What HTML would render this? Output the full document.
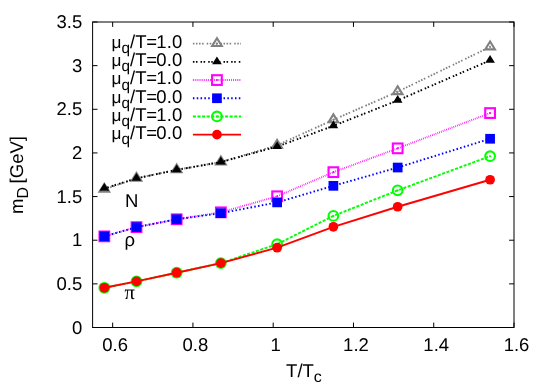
<!DOCTYPE html>
<html><head><meta charset="utf-8"><title>plot</title>
<style>html,body{margin:0;padding:0;background:#fff}svg{display:block}text{font-family:"Liberation Sans",sans-serif;font-size:18.5px;text-rendering:geometricPrecision}svg{will-change:transform;opacity:.999}</style></head>
<body>
<svg width="545" height="382" viewBox="0 0 545 382" fill="#000">
<rect width="545" height="382" fill="#fff"/>
<text x="82.2" y="333.70" text-anchor="end">0</text>
<text x="82.2" y="290.06" text-anchor="end">0.5</text>
<text x="82.2" y="246.41" text-anchor="end">1</text>
<text x="82.2" y="202.77" text-anchor="end">1.5</text>
<text x="82.2" y="159.13" text-anchor="end">2</text>
<text x="82.2" y="115.49" text-anchor="end">2.5</text>
<text x="82.2" y="71.84" text-anchor="end">3</text>
<text x="82.2" y="28.20" text-anchor="end">3.5</text>
<text x="115.17" y="351.20" text-anchor="middle">0.6</text>
<text x="195.43" y="351.20" text-anchor="middle">0.8</text>
<text x="275.70" y="351.20" text-anchor="middle">1</text>
<text x="355.97" y="351.20" text-anchor="middle">1.2</text>
<text x="436.23" y="351.20" text-anchor="middle">1.4</text>
<text x="516.50" y="351.20" text-anchor="middle">1.6</text>
<path d="M92.6,327.50h4.9M514.0,327.50h-4.9M92.6,283.86h4.9M514.0,283.86h-4.9M92.6,240.21h4.9M514.0,240.21h-4.9M92.6,196.57h4.9M514.0,196.57h-4.9M92.6,152.93h4.9M514.0,152.93h-4.9M92.6,109.29h4.9M514.0,109.29h-4.9M92.6,65.64h4.9M514.0,65.64h-4.9M92.6,22.00h4.9M514.0,22.00h-4.9M112.67,327.5v-4.9M112.67,22.0v4.9M192.93,327.5v-4.9M192.93,22.0v4.9M273.20,327.5v-4.9M273.20,22.0v4.9M353.47,327.5v-4.9M353.47,22.0v4.9M433.73,327.5v-4.9M433.73,22.0v4.9M514.00,327.5v-4.9M514.00,22.0v4.9" stroke="#000" stroke-width="1" fill="none"/>
<rect x="92.6" y="22.0" width="421.40" height="305.50" fill="none" stroke="#000" stroke-width="1"/>
<text x="111.5" y="48.05" style="font-size:17.2px">μ</text><text x="121.6" y="53.15" style="font-size:15.3px">q</text><text x="130.03 135.17 146.17 156.37 166.7 172.1" y="48.05">/T=1.0</text>
<text x="111.5" y="66.25" style="font-size:17.2px">μ</text><text x="121.6" y="71.35" style="font-size:15.3px">q</text><text x="130.03 135.17 146.17 156.37 166.7 172.1" y="66.25">/T=0.0</text>
<text x="111.5" y="84.45" style="font-size:17.2px">μ</text><text x="121.6" y="89.55" style="font-size:15.3px">q</text><text x="130.03 135.17 146.17 156.37 166.7 172.1" y="84.45">/T=1.0</text>
<text x="111.5" y="102.65" style="font-size:17.2px">μ</text><text x="121.6" y="107.75" style="font-size:15.3px">q</text><text x="130.03 135.17 146.17 156.37 166.7 172.1" y="102.65">/T=0.0</text>
<text x="111.5" y="120.85" style="font-size:17.2px">μ</text><text x="121.6" y="125.95" style="font-size:15.3px">q</text><text x="130.03 135.17 146.17 156.37 166.7 172.1" y="120.85">/T=1.0</text>
<text x="111.5" y="139.05" style="font-size:17.2px">μ</text><text x="121.6" y="144.15" style="font-size:15.3px">q</text><text x="130.03 135.17 146.17 156.37 166.7 172.1" y="139.05">/T=0.0</text>
<path d="M192.9,43.65H241.0" stroke="#808080" stroke-width="1.9" fill="none" stroke-dasharray="1.530 1.530 1.530 1.530 1.530 1.530 1.530 3.060"/>
<polygon points="216.95,38.22 212.10,46.07 221.80,46.07" fill="none" stroke="#808080" stroke-width="2.1"/><circle cx="216.95" cy="43.65" r="1.05" fill="#808080"/>
<polyline points="104.35,189.31 136.50,178.33 176.68,169.88 220.88,162.04 277.13,145.31 333.39,119.77 397.68,91.71 490.09,46.92" stroke="#808080" stroke-width="1.9" fill="none" stroke-dasharray="1.530 1.530 1.530 1.530 1.530 1.530 1.530 3.060" stroke-linejoin="round"/>
<polygon points="104.35,183.88 99.50,191.74 109.20,191.74" fill="none" stroke="#808080" stroke-width="2.1"/><circle cx="104.35" cy="189.31" r="1.05" fill="#808080"/>
<polygon points="136.50,172.90 131.65,180.76 141.35,180.76" fill="none" stroke="#808080" stroke-width="2.1"/><circle cx="136.50" cy="178.33" r="1.05" fill="#808080"/>
<polygon points="176.68,164.45 171.83,172.31 181.53,172.31" fill="none" stroke="#808080" stroke-width="2.1"/><circle cx="176.68" cy="169.88" r="1.05" fill="#808080"/>
<polygon points="220.88,156.61 216.03,164.46 225.73,164.46" fill="none" stroke="#808080" stroke-width="2.1"/><circle cx="220.88" cy="162.04" r="1.05" fill="#808080"/>
<polygon points="277.13,139.88 272.28,147.73 281.98,147.73" fill="none" stroke="#808080" stroke-width="2.1"/><circle cx="277.13" cy="145.31" r="1.05" fill="#808080"/>
<polygon points="333.39,114.34 328.54,122.20 338.24,122.20" fill="none" stroke="#808080" stroke-width="2.1"/><circle cx="333.39" cy="119.77" r="1.05" fill="#808080"/>
<polygon points="397.68,86.28 392.83,94.14 402.53,94.14" fill="none" stroke="#808080" stroke-width="2.1"/><circle cx="397.68" cy="91.71" r="1.05" fill="#808080"/>
<polygon points="490.09,41.49 485.24,49.35 494.94,49.35" fill="none" stroke="#808080" stroke-width="2.1"/><circle cx="490.09" cy="46.92" r="1.05" fill="#808080"/>
<path d="M192.9,61.85H241.0" stroke="#000000" stroke-width="1.9" fill="none" stroke-dasharray="1.530 1.530 1.530 3.060"/>
<polygon points="216.95,56.42 212.10,64.27 221.80,64.27" fill="#000000"/>
<polyline points="104.35,188.44 136.50,178.33 176.68,169.88 220.88,162.04 277.13,146.61 333.39,125.87 397.68,100.43 490.09,60.34" stroke="#000000" stroke-width="1.9" fill="none" stroke-dasharray="1.530 1.530 1.530 3.060" stroke-linejoin="round"/>
<polygon points="104.35,183.01 99.50,190.87 109.20,190.87" fill="#000000"/>
<polygon points="136.50,172.90 131.65,180.76 141.35,180.76" fill="#000000"/>
<polygon points="176.68,164.45 171.83,172.31 181.53,172.31" fill="#000000"/>
<polygon points="220.88,156.61 216.03,164.46 225.73,164.46" fill="#000000"/>
<polygon points="277.13,141.18 272.28,149.04 281.98,149.04" fill="#000000"/>
<polygon points="333.39,120.44 328.54,128.30 338.24,128.30" fill="#000000"/>
<polygon points="397.68,95.00 392.83,102.85 402.53,102.85" fill="#000000"/>
<polygon points="490.09,54.91 485.24,62.77 494.94,62.77" fill="#000000"/>
<path d="M192.9,80.05H241.0" stroke="#ff00ff" stroke-width="1.9" fill="none" stroke-dasharray="0.765 1.147"/>
<rect x="212.10" y="75.20" width="9.7" height="9.7" fill="none" stroke="#ff00ff" stroke-width="2.1"/><circle cx="216.95" cy="80.05" r="1.05" fill="#ff00ff"/>
<polyline points="104.35,236.37 136.50,227.13 176.68,219.29 220.88,212.32 277.13,196.29 333.39,172.15 397.68,148.36 490.09,113.06" stroke="#ff00ff" stroke-width="1.9" fill="none" stroke-dasharray="0.765 1.147" stroke-linejoin="round"/>
<rect x="99.50" y="231.52" width="9.7" height="9.7" fill="none" stroke="#ff00ff" stroke-width="2.1"/><circle cx="104.35" cy="236.37" r="1.05" fill="#ff00ff"/>
<rect x="131.65" y="222.28" width="9.7" height="9.7" fill="none" stroke="#ff00ff" stroke-width="2.1"/><circle cx="136.50" cy="227.13" r="1.05" fill="#ff00ff"/>
<rect x="171.83" y="214.44" width="9.7" height="9.7" fill="none" stroke="#ff00ff" stroke-width="2.1"/><circle cx="176.68" cy="219.29" r="1.05" fill="#ff00ff"/>
<rect x="216.03" y="207.47" width="9.7" height="9.7" fill="none" stroke="#ff00ff" stroke-width="2.1"/><circle cx="220.88" cy="212.32" r="1.05" fill="#ff00ff"/>
<rect x="272.28" y="191.44" width="9.7" height="9.7" fill="none" stroke="#ff00ff" stroke-width="2.1"/><circle cx="277.13" cy="196.29" r="1.05" fill="#ff00ff"/>
<rect x="328.54" y="167.30" width="9.7" height="9.7" fill="none" stroke="#ff00ff" stroke-width="2.1"/><circle cx="333.39" cy="172.15" r="1.05" fill="#ff00ff"/>
<rect x="392.83" y="143.51" width="9.7" height="9.7" fill="none" stroke="#ff00ff" stroke-width="2.1"/><circle cx="397.68" cy="148.36" r="1.05" fill="#ff00ff"/>
<rect x="485.24" y="108.21" width="9.7" height="9.7" fill="none" stroke="#ff00ff" stroke-width="2.1"/><circle cx="490.09" cy="113.06" r="1.05" fill="#ff00ff"/>
<path d="M192.9,98.25H241.0" stroke="#0000ff" stroke-width="1.9" fill="none" stroke-dasharray="1.530 2.295"/>
<rect x="212.10" y="93.40" width="9.7" height="9.7" fill="#0000ff"/>
<polyline points="104.35,236.37 136.50,227.13 176.68,219.29 220.88,213.19 277.13,202.39 333.39,185.83 397.68,167.53 490.09,138.77" stroke="#0000ff" stroke-width="1.9" fill="none" stroke-dasharray="1.530 2.295" stroke-linejoin="round"/>
<rect x="99.50" y="231.52" width="9.7" height="9.7" fill="#0000ff"/>
<rect x="131.65" y="222.28" width="9.7" height="9.7" fill="#0000ff"/>
<rect x="171.83" y="214.44" width="9.7" height="9.7" fill="#0000ff"/>
<rect x="216.03" y="208.34" width="9.7" height="9.7" fill="#0000ff"/>
<rect x="272.28" y="197.54" width="9.7" height="9.7" fill="#0000ff"/>
<rect x="328.54" y="180.98" width="9.7" height="9.7" fill="#0000ff"/>
<rect x="392.83" y="162.68" width="9.7" height="9.7" fill="#0000ff"/>
<rect x="485.24" y="133.92" width="9.7" height="9.7" fill="#0000ff"/>
<path d="M192.9,116.45H241.0" stroke="#00ff00" stroke-width="1.9" fill="none" stroke-dasharray="3.060 1.530"/>
<circle cx="216.95" cy="116.45" r="4.85" fill="none" stroke="#00ff00" stroke-width="2.1"/><circle cx="216.95" cy="116.45" r="1.05" fill="#00ff00"/>
<polyline points="104.35,287.79 136.50,281.42 176.68,272.71 220.88,263.12 277.13,244.21 333.39,215.89 397.68,190.36 490.09,156.20" stroke="#00ff00" stroke-width="1.9" fill="none" stroke-dasharray="3.060 1.530" stroke-linejoin="round"/>
<circle cx="104.35" cy="287.79" r="4.85" fill="none" stroke="#00ff00" stroke-width="2.1"/><circle cx="104.35" cy="287.79" r="1.05" fill="#00ff00"/>
<circle cx="136.50" cy="281.42" r="4.85" fill="none" stroke="#00ff00" stroke-width="2.1"/><circle cx="136.50" cy="281.42" r="1.05" fill="#00ff00"/>
<circle cx="176.68" cy="272.71" r="4.85" fill="none" stroke="#00ff00" stroke-width="2.1"/><circle cx="176.68" cy="272.71" r="1.05" fill="#00ff00"/>
<circle cx="220.88" cy="263.12" r="4.85" fill="none" stroke="#00ff00" stroke-width="2.1"/><circle cx="220.88" cy="263.12" r="1.05" fill="#00ff00"/>
<circle cx="277.13" cy="244.21" r="4.85" fill="none" stroke="#00ff00" stroke-width="2.1"/><circle cx="277.13" cy="244.21" r="1.05" fill="#00ff00"/>
<circle cx="333.39" cy="215.89" r="4.85" fill="none" stroke="#00ff00" stroke-width="2.1"/><circle cx="333.39" cy="215.89" r="1.05" fill="#00ff00"/>
<circle cx="397.68" cy="190.36" r="4.85" fill="none" stroke="#00ff00" stroke-width="2.1"/><circle cx="397.68" cy="190.36" r="1.05" fill="#00ff00"/>
<circle cx="490.09" cy="156.20" r="4.85" fill="none" stroke="#00ff00" stroke-width="2.1"/><circle cx="490.09" cy="156.20" r="1.05" fill="#00ff00"/>
<path d="M192.9,134.65H241.0" stroke="#ff0000" stroke-width="1.9" fill="none"/>
<circle cx="216.95" cy="134.65" r="4.85" fill="#ff0000"/>
<polyline points="104.35,287.79 136.50,281.42 176.68,272.71 220.88,263.12 277.13,247.70 333.39,226.79 397.68,206.74 490.09,179.73" stroke="#ff0000" stroke-width="1.9" fill="none" stroke-linejoin="round"/>
<circle cx="104.35" cy="287.79" r="4.85" fill="#ff0000"/>
<circle cx="136.50" cy="281.42" r="4.85" fill="#ff0000"/>
<circle cx="176.68" cy="272.71" r="4.85" fill="#ff0000"/>
<circle cx="220.88" cy="263.12" r="4.85" fill="#ff0000"/>
<circle cx="277.13" cy="247.70" r="4.85" fill="#ff0000"/>
<circle cx="333.39" cy="226.79" r="4.85" fill="#ff0000"/>
<circle cx="397.68" cy="206.74" r="4.85" fill="#ff0000"/>
<circle cx="490.09" cy="179.73" r="4.85" fill="#ff0000"/>
<text x="125" y="206.5">N</text>
<text x="124.5" y="246.1">ρ</text>
<text x="124.4" y="298.7" style="font-family:'Liberation Serif',serif;font-size:20.5px">π</text>
<text x="286.1" y="376.7">T/T<tspan style="font-size:16px" dy="5.3">c</tspan></text>
<text transform="translate(22.5,214) rotate(-90)">m<tspan style="font-size:16px" dy="5.8">D</tspan><tspan dy="-5.8" dx="-1.5"> [GeV]</tspan></text>
</svg>
</body></html>
